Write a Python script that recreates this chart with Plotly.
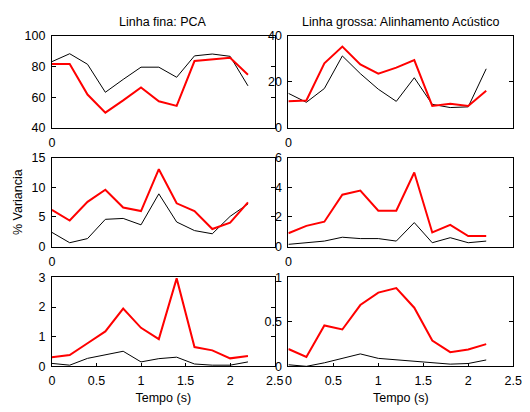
import plotly.graph_objects as go

tempo = [0.0, 0.2, 0.4, 0.6, 0.8, 1.0, 1.2, 1.4, 1.6, 1.8, 2.0, 2.2]

# Thin line: PCA (black); Thick line: Acoustic alignment (red)
r1_left_pca = [83.2, 88.4, 81.5, 63.2, 71.6, 79.6, 79.6, 73.0, 87.0, 88.2, 86.7, 67.4]
r1_left_ac = [81.7, 81.7, 61.7, 49.9, 57.9, 66.3, 57.3, 54.3, 83.6, 84.6, 85.7, 74.7]
r1_right_pca = [15.0, 11.1, 17.1, 31.3, 23.6, 16.8, 11.5, 21.8, 10.2, 8.8, 9.1, 25.7]
r1_right_ac = [11.5, 11.9, 28.1, 35.4, 27.6, 23.6, 26.2, 29.5, 9.5, 10.5, 9.5, 16.1]

r2_left_pca = [2.4, 0.65, 1.35, 4.6, 4.75, 3.67, 8.9, 4.15, 2.7, 2.16, 5.1, 7.2]
r2_left_ac = [6.2, 4.4, 7.55, 9.6, 6.6, 6.0, 13.06, 7.3, 6.0, 2.97, 4.05, 7.45]
r2_right_pca = [0.15, 0.26, 0.37, 0.63, 0.54, 0.54, 0.37, 1.62, 0.26, 0.6, 0.26, 0.37]
r2_right_ac = [0.9, 1.4, 1.68, 3.5, 3.78, 2.42, 2.42, 5.0, 0.95, 1.47, 0.71, 0.71]

r3_left_pca = [0.1, 0.04, 0.27, 0.4, 0.51, 0.15, 0.26, 0.31, 0.08, 0.04, 0.04, 0.15]
r3_left_ac = [0.31, 0.38, 0.78, 1.18, 1.95, 1.3, 0.92, 2.97, 0.65, 0.54, 0.27, 0.35]
r3_right_pca = [0.018, 0.0, 0.04, 0.087, 0.14, 0.09, 0.072, 0.058, 0.036, 0.025, 0.032, 0.072]
r3_right_ac = [0.195, 0.105, 0.46, 0.415, 0.69, 0.83, 0.88, 0.66, 0.29, 0.16, 0.19, 0.25]

y_ranges = [[40, 100], [0, 40], [0, 15], [0, 6], [0, 3], [0, 1]]
y_ticks = [[40, 60, 80, 100], [0, 20, 40], [0, 5, 10, 15], [0, 2, 4, 6], [0, 1, 2, 3], [0, 0.5, 1]]
y_ticktext = [["40", "60", "80", "100"], ["0", "20", "40"], ["0", "5", "10", "15"],
              ["0", "2", "4", "6"], ["0", "1", "2", "3"], ["0", "0.5", "1"]]
x_ticks_bottom = [0, 0.5, 1, 1.5, 2, 2.5]
x_ticktext_bottom = ["0", "0.5", "1", "1.5", "2", "2.5"]

titles = ["Linha fina: PCA", "Linha grossa: Alinhamento Acústico"]
x_title = "Tempo (s)"
y_title = "% Variancia"

pca_series = [r1_left_pca, r1_right_pca, r2_left_pca, r2_right_pca, r3_left_pca, r3_right_pca]
ac_series = [r1_left_ac, r1_right_ac, r2_left_ac, r2_right_ac, r3_left_ac, r3_right_ac]

W, H = 530, 412
x_doms = [[50 / W, 278 / W], [292 / W, 522 / W]]
rows_px = [(30, 125), (156, 248), (280, 372)]
y_doms = [[(H - b) / H, (H - t) / H] for t, b in rows_px]

FONT = "Liberation Sans, Arial, sans-serif"
FS = 12.5

fig = go.Figure()
layout = {}
for i in range(6):
    r, c = divmod(i, 2)
    n = i + 1
    xa = "x" if n == 1 else f"x{n}"
    ya = "y" if n == 1 else f"y{n}"
    fig.add_trace(go.Scatter(x=tempo, y=pca_series[i], mode="lines",
                             line=dict(color="#000000", width=1),
                             xaxis=xa, yaxis=ya, showlegend=False))
    fig.add_trace(go.Scatter(x=tempo, y=ac_series[i], mode="lines",
                             line=dict(color="#ff0000", width=2),
                             xaxis=xa, yaxis=ya, showlegend=False))
    bottom = (r == 2)
    xkey = "xaxis" if n == 1 else f"xaxis{n}"
    ykey = "yaxis" if n == 1 else f"yaxis{n}"
    layout[xkey] = dict(
        domain=x_doms[c], anchor=ya, range=[0, 2.5],
        tickvals=x_ticks_bottom if bottom else [0],
        ticktext=x_ticktext_bottom if bottom else ["0"],
        ticks="inside", ticklen=3 if bottom else 0, tickcolor="#000",
        ticklabelstandoff=3,
        showline=True, linecolor="#000", linewidth=1, mirror=True,
        showgrid=False, zeroline=False,
        tickfont=dict(family=FONT, size=FS, color="#000"),
        title=dict(text=x_title, font=dict(family=FONT, size=FS, color="#000"), standoff=5) if bottom else None,
    )
    layout[ykey] = dict(
        domain=y_doms[r], anchor=xa, range=y_ranges[i],
        tickvals=y_ticks[i], ticktext=y_ticktext[i],
        ticks="inside", ticklen=4, tickcolor="#000",
        ticklabelstandoff=3,
        showline=True, linecolor="#000", linewidth=1, mirror="ticks",
        showgrid=False, zeroline=False,
        tickfont=dict(family=FONT, size=FS, color="#000"),
    )
    if i == 2:
        layout[ykey]["title"] = dict(text=y_title, font=dict(family=FONT, size=FS, color="#000"), standoff=6)

annotations = []
for c in range(2):
    annotations.append(dict(text=titles[c], x=(x_doms[c][0] + x_doms[c][1]) / 2, y=(H - 16) / H,
                            xref="paper", yref="paper", showarrow=False,
                            font=dict(family=FONT, size=FS, color="#000"),
                            xanchor="center", yanchor="middle"))

fig.update_layout(**layout)
fig.update_layout(width=W, height=H, margin=dict(l=0, r=0, t=0, b=0),
                  paper_bgcolor="white", plot_bgcolor="white",
                  annotations=annotations, showlegend=False)
fig.write_html("out.html")
